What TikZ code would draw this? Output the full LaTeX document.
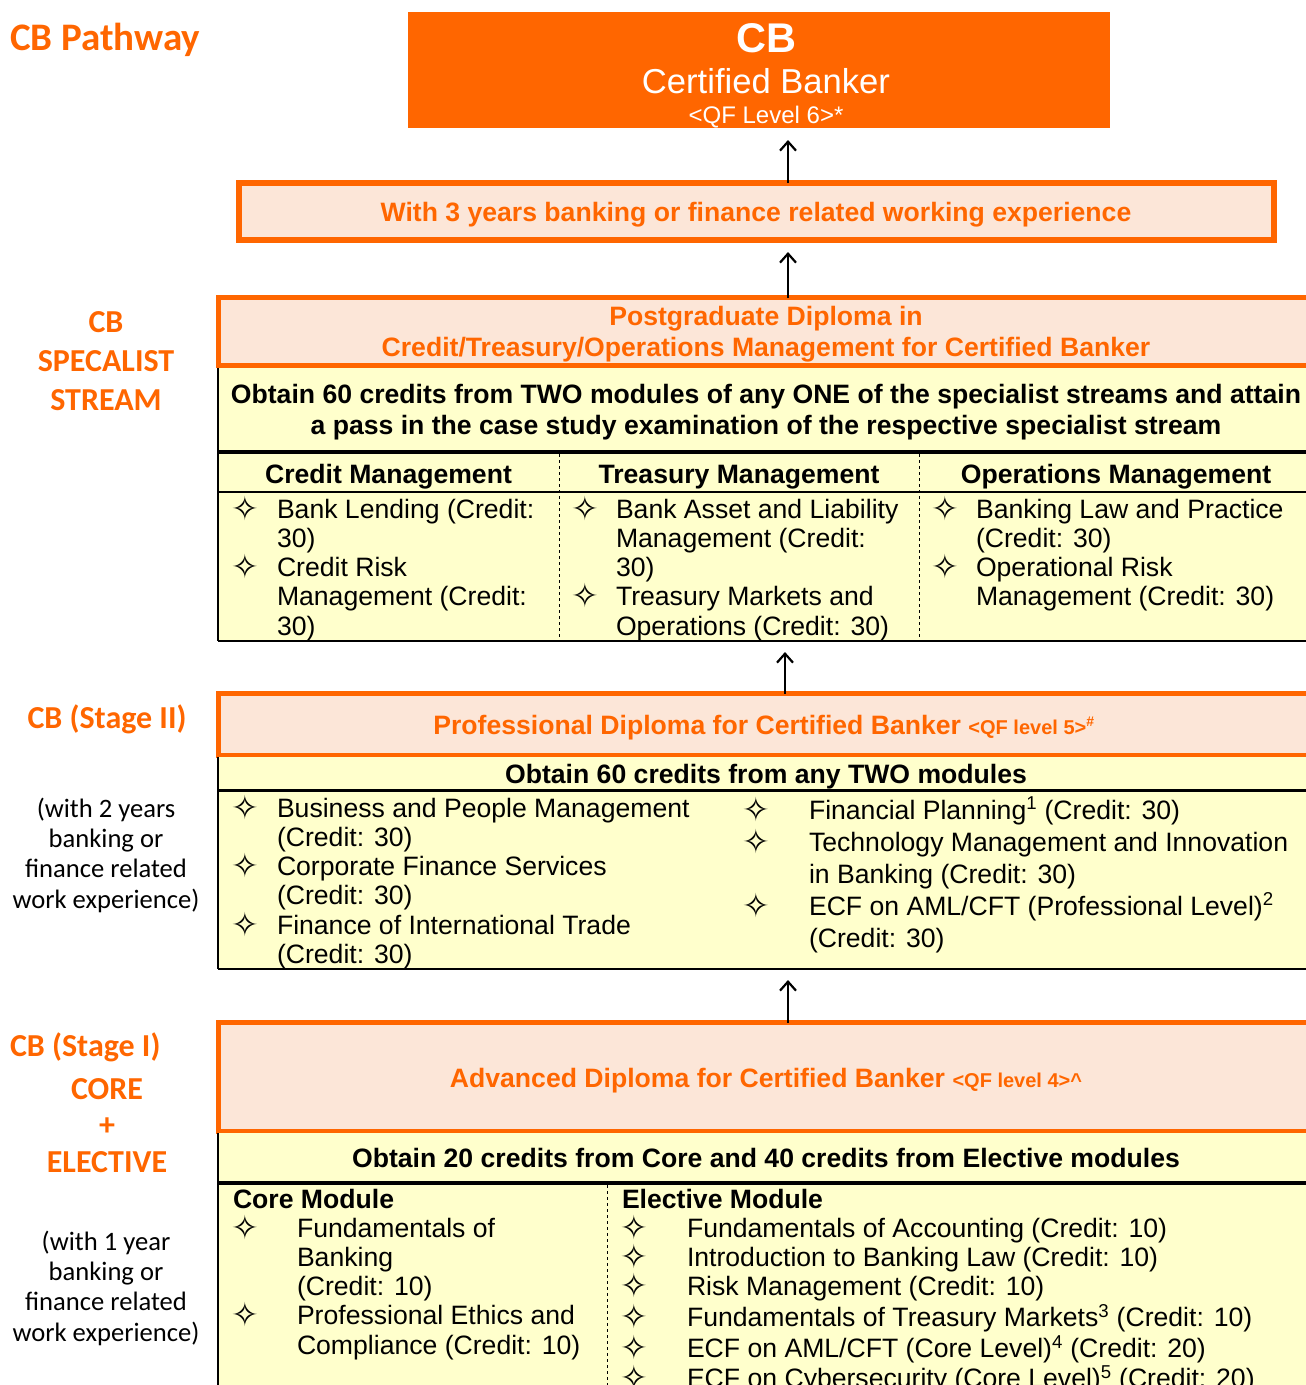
\documentclass[tikz,border=0pt]{standalone}
\usepackage{fontspec}
\setmainfont{Liberation Sans}
\newfontfamily\carlito{Carlito}
\newfontfamily\symfont{DejaVu Sans}
\usetikzlibrary{arrows.meta}

\definecolor{cbOrange}{HTML}{FF6600}
\definecolor{cbPeach}{HTML}{FCE6D8}
\definecolor{cbYellow}{HTML}{FFFFCC}
\newcommand{\bodysize}{\fontsize{26.6}{29.3}\selectfont}
\newcommand{\dia}{\makebox[20pt][c]{\raisebox{-2pt}[0pt][0pt]{\symfont\fontsize{33}{22}\selectfont ✧}}}

\begin{document}
\begin{tikzpicture}[x=1pt,y=-1pt,
  every node/.style={inner sep=0pt, outer sep=0pt},
  sidehead/.style={font=\carlito\bfseries\fontsize{32}{39}\selectfont, text=cbOrange, align=center, anchor=base},
  sidenote/.style={font=\carlito\fontsize{26.6}{30.2}\selectfont, align=center, anchor=base},
  headbox/.style={draw=cbOrange, line width=5pt, fill=cbPeach, anchor=north west},
  headtext/.style={font=\bfseries\fontsize{26.6}{31}\selectfont, text=cbOrange, align=center, anchor=base},
  ruletext/.style={font=\bfseries\fontsize{26.6}{31}\selectfont, align=center, anchor=base},
  modlist/.style={font=\bodysize, anchor=base west},
  uparrow/.style={-{Straight Barb[length=9pt,width=16pt]}, line width=2.2pt, shorten >=12pt},
  divider/.style={dashed, line width=1pt}]
%% page size and crop
  \useasboundingbox (0,0) rectangle (1306,1385);
  \clip (0,0) rectangle (1306,1385);
  \coordinate (ax) at (788,0);
  \coordinate (bx) at (785,0);

%% left hand labels (multi line nodes sit on their last line)
  \node[sidehead, anchor=base west, font=\carlito\bfseries\fontsize{39}{39}\selectfont] (pathway) at (10,50) {CB Pathway};
  \node[sidehead] (specialist) at (106,410) {CB\\SPECALIST\\STREAM};
  \node[sidehead] (stageTwo) at (107,728) {CB (Stage II)};
  \node[sidenote] (noteTwo) at (106,908) {(with 2 years\\banking or\\finance related\\work experience)};
  \node[sidehead, anchor=base west] (stageOne) at (10,1056) {CB (Stage I)};
  \node[sidehead, font=\carlito\bfseries\fontsize{32}{36.5}\selectfont] (coreElective) at (107,1172) {CORE\\+\\ELECTIVE};
  \node[sidenote] (noteOne) at (106,1341) {(with 1 year\\banking or\\finance related\\work experience)};

%% top award
  \node[fill=cbOrange, minimum width=702, minimum height=116, anchor=north west] (cb) at (408,12) {};
  \node[font=\bfseries\fontsize{41.5}{41.5}\selectfont, text=white, anchor=base] (cbTitle) at (766,52) {CB};
  \node[font=\fontsize{34.6}{34.6}\selectfont, text=white, anchor=base] (cbName) at (766,93) {Certified Banker};
  \node[font=\fontsize{24}{24}\selectfont, text=white, anchor=base] (cbLevel) at (766,123) {<QF Level 6>*};

%% experience box
  \node[draw=cbOrange, line width=6pt, fill=cbPeach, minimum width=1035, minimum height=57, anchor=north west] (experience) at (239,183) {};
  \node[headtext] (experienceText) at (756,221) {With 3 years banking or finance related working experience};

%% specialist stream
  \node[headbox, minimum width=1120, minimum height=68] (pgd) at (218.5,297.5) {};
  \node[headtext] (pgdText) at (766,356) {Postgraduate Diploma in\\Credit/Treasury/Operations Management for Certified Banker};
  \fill[cbYellow] (218,368) rectangle (1330,641);
  \draw[line width=4pt] (218,452) -- (1330,452);
  \draw[line width=1.5pt] (218,492) -- (1330,492);
  \draw[line width=2.5pt] (218,641) -- (1330,641);
  \draw[line width=2pt] (218,368) -- (218,641);
  \draw[divider] (559,454) -- (559,640);
  \draw[divider] (919,454) -- (919,640);
  \coordinate (pgdBottom) at (785,641);
  \node[ruletext] (pgdRule) at (766,434) {Obtain 60 credits from TWO modules of any ONE of the specialist streams and attain\\a pass in the case study examination of the respective specialist stream};
  \node[ruletext] (headCredit) at (388.5,483) {Credit Management};
  \node[ruletext] (headTreasury) at (739,483) {Treasury Management};
  \node[ruletext] (headOperations) at (1116,483) {Operations Management};
  \node[modlist] (modCredit) at (235,518) {\begin{tabular}[t]{@{}p{42pt}@{}l@{}}
    \dia & Bank Lending (Credit:\\ & 30)\\ \dia & Credit Risk\\ & Management (Credit:\\ & 30)\end{tabular}};
  \node[modlist] (modTreasury) at (575,518) {\begin{tabular}[t]{@{}p{41pt}@{}l@{}}
    \dia & Bank Asset and Liability\\ & Management (Credit:\\ & 30)\\ \dia & Treasury Markets and\\ & Operations (Credit: 30)\end{tabular}};
  \node[modlist] (modOperations) at (935,518) {\begin{tabular}[t]{@{}p{41pt}@{}l@{}}
    \dia & Banking Law and Practice\\ & (Credit: 30)\\ \dia & Operational Risk\\ & Management (Credit: 30)\end{tabular}};

%% stage II
  \node[headbox, minimum width=1120, minimum height=61.5] (prof) at (218.5,693.5) {};
  \node[headtext] (profText) at (764,734) {Professional Diploma for Certified Banker {\fontsize{20}{20}\selectfont <QF level 5>\textsuperscript{\#}}};
  \fill[cbYellow] (218,757) rectangle (1330,969);
  \draw[line width=3pt] (218,790) -- (1330,790);
  \draw[line width=2.5pt] (218,969) -- (1330,969);
  \draw[line width=2pt] (218,757) -- (218,969);
  \coordinate (profBottom) at (788,969);
  \node[ruletext] (profRule) at (766,783) {Obtain 60 credits from any TWO modules};
  \node[modlist] (modProfA) at (235,817) {\begin{tabular}[t]{@{}p{42pt}@{}l@{}}
    \dia & Business and People Management\\ & (Credit: 30)\\ \dia & Corporate Finance Services\\ & (Credit: 30)\\
    \dia & Finance of International Trade\\ & (Credit: 30)\end{tabular}};
  \node[modlist, font=\fontsize{26.6}{32}\selectfont] (modProfB) at (746,819) {\begin{tabular}[t]{@{}p{63pt}@{}l@{}}
    \dia & Financial Planning\textsuperscript{1} (Credit: 30)\\ \dia & Technology Management and Innovation\\ & in Banking (Credit: 30)\\
    \dia & ECF on AML/CFT (Professional Level)\textsuperscript{2}\\ & (Credit: 30)\end{tabular}};

%% stage I
  \node[headbox, minimum width=1120, minimum height=108.5] (adv) at (218.5,1022.5) {};
  \node[headtext] (advText) at (766,1087) {Advanced Diploma for Certified Banker {\fontsize{20}{20}\selectfont <QF level 4>\textasciicircum}};
  \fill[cbYellow] (218,1133) rectangle (1330,1400);
  \draw[line width=4pt] (218,1183) -- (1330,1183);
  \draw[line width=2pt] (218,1133) -- (218,1400);
  \draw[divider] (607,1185) -- (607,1400);
  \node[ruletext] (advRule) at (766,1167) {Obtain 20 credits from Core and 40 credits from Elective modules};
  \node[ruletext, anchor=base west] (headCore) at (233,1208) {Core Module};
  \node[ruletext, anchor=base west] (headElective) at (622,1208) {Elective Module};
  \node[modlist] (modCore) at (235,1237) {\begin{tabular}[t]{@{}p{62pt}@{}l@{}}
    \dia & Fundamentals of\\ & Banking\\ & (Credit: 10)\\ \dia & Professional Ethics and\\ & Compliance (Credit: 10)\end{tabular}};
  \node[modlist] (modElective) at (624,1237) {\begin{tabular}[t]{@{}p{63pt}@{}l@{}}
    \dia & Fundamentals of Accounting (Credit: 10)\\ \dia & Introduction to Banking Law (Credit: 10)\\
    \dia & Risk Management (Credit: 10)\\ \dia & Fundamentals of Treasury Markets\textsuperscript{3} (Credit: 10)\\
    \dia & ECF on AML/CFT (Core Level)\textsuperscript{4} (Credit: 20)\\
    \dia & ECF on Cybersecurity (Core Level)\textsuperscript{5} (Credit: 20)\end{tabular}};

%% arrows between levels
  \draw[uparrow] (experience.north -| ax) -- (cb.south -| ax);
  \draw[uparrow] (pgd.north -| ax) -- (experience.south -| ax);
  \draw[uparrow, shorten >=11pt] (prof.north -| bx) -- (pgdBottom);
  \draw[uparrow, shorten >=11pt] (adv.north -| ax) -- (profBottom);
\end{tikzpicture}
\end{document}
